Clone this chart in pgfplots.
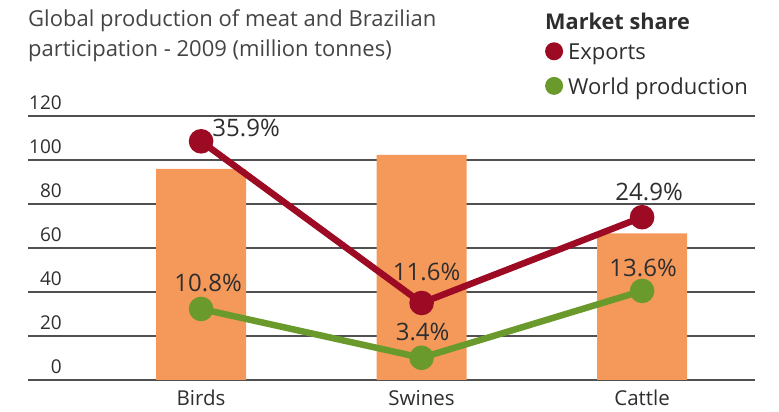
\documentclass[border=0pt]{standalone}
\usepackage{pgfplots}
\pgfplotsset{compat=1.18}
\usepackage{fontspec}
\setmainfont{Open Sans}
\definecolor{barorange}{HTML}{F5995B}
\definecolor{expred}{HTML}{9C0A24}
\definecolor{wgreen}{HTML}{6A9A2B}
\definecolor{gridgray}{HTML}{505050}
\definecolor{txt}{HTML}{2E2E2E}
\definecolor{titletxt}{HTML}{444444}
\begin{document}
\begin{tikzpicture}[x=1pt,y=1pt]
\useasboundingbox (0,0) rectangle (779,412);
\node[anchor=base west, inner sep=0pt, text=titletxt, font=\fontsize{22}{30}\selectfont] at (28,385) {Global production of meat and Brazilian};
\node[anchor=base west, inner sep=0pt, text=titletxt, font=\fontsize{22}{30}\selectfont] at (28,355) {participation - 2009 (million tonnes)};
\node[anchor=base west, inner sep=0pt, text=txt, font=\fontsize{21.7}{25}\selectfont\bfseries] at (545,382) {Market share};
\begin{axis}[
  at={(28pt,32pt)}, anchor=south west,
  scale only axis, width=727pt, height=264pt,
  xmin=-0.785, xmax=2.512, ymin=0, ymax=120,
  ytick={0,20,...,120},
  xtick={0,1,2}, xticklabels={Birds,Swines,Cattle},
  axis line style={draw=none}, major tick length=0pt,
  ymajorgrids, grid style={gridgray, line width=1.3pt},
  yticklabel style={anchor=base east, inner sep=0pt, xshift=34pt, yshift=6.7pt, font=\fontsize{19}{19}\selectfont, text=txt},
  /pgf/number format/assume math mode=true,
  xticklabel style={anchor=base, inner sep=0pt, yshift=-26pt, font=\fontsize{20.5}{20}\selectfont, text=txt},
  legend cell align=left,
  legend image code/.code={\fill[#1, draw=none] (9pt,1pt) circle (9pt);},
  legend style={at={(rel axis cs:0.711,1.28)}, anchor=north west, draw=none, fill=none,
    font=\fontsize{22}{22}\selectfont, text=txt, inner sep=0pt, row sep=16pt,
    nodes={inner sep=0pt},
    /tikz/every odd column/.append style={column sep=5pt}},
]
\addplot[ybar, bar width=0.408, fill=barorange, draw=none, forget plot]
  coordinates {(0,96) (1,102.3) (2,66.7)};
\addplot[expred, line width=6.5pt, mark=*, mark size=9pt, mark options={fill=expred, draw=none}]
  coordinates {(0,108.5) (1,35) (2,74)};
\addlegendentry{Exports}
\addplot[wgreen, line width=6.5pt, mark=*, mark size=9pt, mark options={fill=wgreen, draw=none}]
  coordinates {(0,32.3) (1,10.1) (2,40.5)};
\addlegendentry{World production}
\node[font=\fontsize{24}{24}\selectfont, text=txt, xshift=45pt, yshift=13pt] at (axis cs:0,108.5) {35.9\%};
\node[font=\fontsize{24}{24}\selectfont, text=txt, xshift=7pt, yshift=26pt] at (axis cs:0,32.3) {10.8\%};
\node[font=\fontsize{24}{24}\selectfont, text=txt, xshift=5pt, yshift=31pt] at (axis cs:1,35) {11.6\%};
\node[font=\fontsize{24}{24}\selectfont, text=txt, xshift=1pt, yshift=26pt] at (axis cs:1,10.1) {3.4\%};
\node[font=\fontsize{24}{24}\selectfont, text=txt, xshift=7pt, yshift=25pt] at (axis cs:2,74) {24.9\%};
\node[font=\fontsize{24}{24}\selectfont, text=txt, xshift=1pt, yshift=23pt] at (axis cs:2,40.5) {13.6\%};
\end{axis}
\end{tikzpicture}
\end{document}
